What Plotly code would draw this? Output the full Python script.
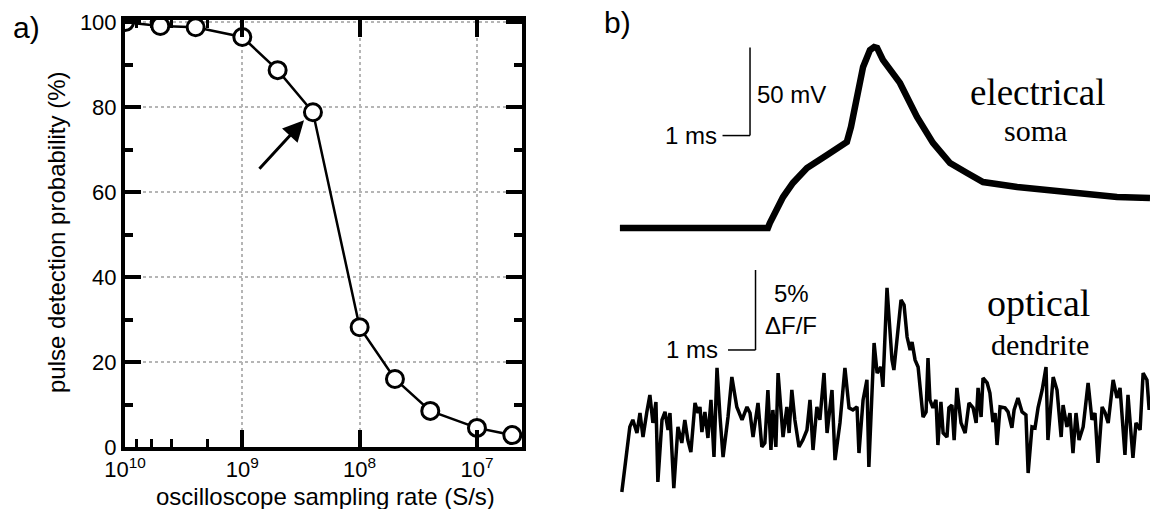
import plotly.graph_objects as go

# a) detection probability vs oscilloscope sampling rate
rate = [1e10, 5e9, 2.5e9, 1e9, 5e8, 2.5e8, 1e8, 5e7, 2.5e7, 1e7, 5e6]
prob = [100, 99.1, 98.8, 96.5, 88.7, 78.8, 28.2, 16.0, 8.5, 4.5, 2.8]
rate_ticks = [1e10, 1e9, 1e8, 1e7]
rate_labels = ["10<sup>10</sup>", "10<sup>9</sup>", "10<sup>8</sup>", "10<sup>7</sup>"]

# b) electrical trace (soma), time in ms, membrane potential in mV
e_t = [0, 5.38, 5.45, 5.71, 5.93, 6.29, 6.80, 7.53, 8.25, 8.40, 8.62, 8.84, 9.09, 9.24,
       9.35, 9.56, 10.18, 10.80, 11.38, 12.00, 12.62, 13.20, 14.44, 15.64, 16.84, 18.07, 19.27]
e_mv = [-65, -65, -62.2, -53.1, -47.4, -39.4, -30.9, -23.5, -16.1, -7.6, 9.4, 26.5, 36.1, 37.8,
        37.3, 30.5, 17.4, -1.9, -16.7, -28.1, -33.8, -38.9, -41.7, -43.4, -45.1, -47.4, -48.0]

# b) optical trace (dendrite), time in ms, dF/F in %
o_t = [0.07, 0.25, 0.36, 0.47, 0.62, 0.73, 0.84, 0.98, 1.09, 1.20,
       1.31, 1.38, 1.53, 1.64, 1.75, 1.82, 1.96, 2.11, 2.25, 2.36,
       2.47, 2.58, 2.73, 2.84, 2.91, 2.98, 3.09, 3.20, 3.31, 3.42,
       3.53, 3.64, 3.75, 3.93, 4.07, 4.25, 4.44, 4.62, 4.73, 4.84,
       5.02, 5.16, 5.27, 5.38, 5.49, 5.56, 5.67, 5.75, 5.93, 6.07,
       6.15, 6.25, 6.36, 6.51, 6.65, 6.80, 6.91, 7.02, 7.16, 7.27,
       7.42, 7.53, 7.71, 7.82, 8.00, 8.18, 8.33, 8.47, 8.62, 8.69,
       8.84, 8.98, 9.05, 9.24, 9.35, 9.49, 9.56, 9.71, 9.89, 9.96,
       10.07, 10.22, 10.33, 10.44, 10.55, 10.62, 10.73, 10.84, 11.02, 11.13,
       11.20, 11.27, 11.38, 11.49, 11.56, 11.67, 11.75, 11.89, 11.96, 12.07,
       12.15, 12.25, 12.40, 12.55, 12.69, 12.84, 12.95, 13.02, 13.13, 13.20,
       13.35, 13.45, 13.56, 13.64, 13.71, 13.82, 14.00, 14.11, 14.25, 14.33,
       14.47, 14.62, 14.76, 14.84, 14.98, 15.09, 15.20, 15.35, 15.49, 15.56,
       15.75, 15.89, 16.04, 16.11, 16.25, 16.36, 16.47, 16.58, 16.69, 16.84,
       17.02, 17.16, 17.27, 17.38, 17.53, 17.64, 17.75, 17.93, 18.07, 18.18,
       18.36, 18.47, 18.65, 18.76, 18.91, 19.02, 19.16, 19.24]
o_dff = [-3.88, -1.06, 0.19, 0.63, -0.19, 1.06, -0.44, 1.13, 2.19, 0.44,
         1.75, -3.25, 0.63, 1.13, 0.00, 1.06, -3.63, 0.19, -0.81, 0.63,
         -0.63, -1.38, 1.69, 1.06, 1.44, -0.13, 1.13, -0.50, 1.88, -1.69,
         3.88, 0.81, -1.69, 0.81, 3.31, 1.44, 0.63, 1.44, 1.06, -0.44,
         1.69, -1.06, -0.81, 2.50, -1.25, 1.25, -1.06, 3.56, -0.44, 1.44,
         -0.19, 2.50, 0.63, -1.06, -0.63, 0.00, 1.88, -1.25, 1.44, 0.63,
         3.56, -0.19, 2.50, -1.88, 0.44, 3.88, 1.38, 1.25, 1.44, -1.44,
         1.88, 3.13, -2.31, 5.44, 3.56, 3.94, 2.69, 8.88, 4.38, 3.75,
         5.81, 8.13, 7.81, 5.81, 5.00, 5.50, 4.38, 3.94, 0.81, 1.13,
         4.50, 1.88, 1.38, 1.88, -0.94, 1.75, -0.19, -0.44, 1.38, 1.56,
         -0.63, 2.63, 0.44, -0.19, 1.69, 1.38, 0.44, 2.63, 0.81, 3.25,
         2.94, 2.31, 0.50, 1.06, -0.94, 1.44, 1.38, 1.13, 0.13, 1.25,
         2.00, 1.13, 0.94, -2.69, 0.19, 0.13, 1.38, 2.50, 3.94, -0.63,
         3.31, 2.50, -0.44, 1.56, 0.19, 1.06, -1.44, 1.06, -0.63, 0.19,
         2.94, 0.63, 1.06, -2.06, 1.44, 1.06, 0.44, 3.13, 2.00, 2.63,
         -1.56, 2.19, -1.75, 0.44, 0.00, 3.56, 3.13, 1.25]

SANS = "Arial, Liberation Sans, sans-serif"
SERIF = "Liberation Serif, DejaVu Serif, serif"

fig = go.Figure()
fig.add_trace(go.Scatter(x=rate, y=prob, mode="lines+markers",
                         line=dict(color="black", width=2.5),
                         marker=dict(symbol="circle", size=17, color="white",
                                     line=dict(color="black", width=3)),
                         xaxis="x", yaxis="y"))
fig.add_trace(go.Scatter(x=e_t, y=e_mv, mode="lines",
                         line=dict(color="black", width=6.5),
                         xaxis="x2", yaxis="y2"))
fig.add_trace(go.Scatter(x=o_t, y=o_dff, mode="lines",
                         line=dict(color="black", width=3.5),
                         xaxis="x2", yaxis="y3"))

axis_common = dict(showline=True, linecolor="black", linewidth=4, mirror="ticks",
                   ticks="inside", tickcolor="black", tickwidth=3.5,
                   showgrid=True, gridcolor="#b5b5b5", griddash="dot", gridwidth=1.5,
                   zeroline=False, automargin=False,
                   tickfont=dict(family=SANS, size=22, color="black"))

fig.update_layout(
    width=1150, height=509,
    margin=dict(l=0, r=0, t=0, b=0),
    paper_bgcolor="white", plot_bgcolor="white",
    showlegend=False,
    xaxis=dict(type="log", range=[10, 6.616], domain=[125 / 1150, 522 / 1150],
               tickvals=rate_ticks, ticktext=rate_labels, ticklen=17,
               minor=dict(ticks="inside", ticklen=8, tickwidth=3, tickcolor="black",
                          showgrid=False),
               anchor="y", **axis_common),
    yaxis=dict(range=[0, 100.5], domain=[1 - 447 / 509, 1 - 20 / 509],
               dtick=20, ticklen=16,
               minor=dict(dtick=10, ticks="inside", ticklen=8, tickwidth=3.5,
                          tickcolor="black", showgrid=False),
               anchor="x", **axis_common),
    xaxis2=dict(domain=[610 / 1150, 1], range=[-0.36, 19.27], visible=False,
                anchor="y2", automargin=False),
    yaxis2=dict(domain=[1 - 250 / 509, 1], range=[-77.5, 64.5], visible=False,
                anchor="x2", automargin=False),
    yaxis3=dict(domain=[0, 1 - 250 / 509], range=[-4.94, 11.25], visible=False,
                anchor="x2", automargin=False),
)

# scale bars
bar = dict(type="line", line=dict(color="black", width=1.5))
fig.add_shape(xref="x2", yref="y2", x0=4.73, x1=4.73, y0=-12.5, y1=37.5, **bar)
fig.add_shape(xref="x2", yref="y2", x0=3.73, x1=4.73, y0=-12.5, y1=-12.5, **bar)
fig.add_shape(xref="x2", yref="y3", x0=4.93, x1=4.93, y0=5, y1=10, **bar)
fig.add_shape(xref="x2", yref="y3", x0=3.93, x1=4.93, y0=5, y1=5, **bar)

def label(text, x, y, size, family=SANS, xanchor="center", yanchor="middle",
          xref="paper", yref="paper", angle=0, xshift=0):
    fig.add_annotation(text=text, x=x, y=y, xref=xref, yref=yref, showarrow=False,
                       xanchor=xanchor, yanchor=yanchor, textangle=angle, xshift=xshift,
                       font=dict(family=family, size=size, color="black"))

label("a)", 27 / 1150, 1 - 27 / 509, 30)
label("b)", 617 / 1150, 1 - 22 / 509, 30)
label("pulse detection probability (%)", 56 / 1150, 1 - 232 / 509, 24, angle=-90)
label("oscilloscope sampling rate (S/s)", 325 / 1150, 1 - 496 / 509, 24)

label("50 mV", 4.73, 11, 24, xanchor="left", xref="x2", yref="y2", xshift=5)
label("1 ms", 3.73, -12.5, 24, xanchor="right", xref="x2", yref="y2", xshift=-4)
label("5%", 6.22, 8.5, 24, xref="x2", yref="y3")
label("ΔF/F", 6.22, 6.5, 24, xref="x2", yref="y3")
label("1 ms", 3.93, 5, 24, xanchor="right", xref="x2", yref="y3", xshift=-8)

label("electrical", 1038 / 1150, 1 - 92 / 509, 37, family=SERIF)
label("soma", 1035 / 1150, 1 - 130 / 509, 30, family=SERIF)
label("optical", 1038 / 1150, 1 - 303 / 509, 38, family=SERIF)
label("dendrite", 1040 / 1150, 1 - 344 / 509, 30, family=SERIF)

# arrow pointing at the 250 MS/s point
fig.add_annotation(x=8.474, y=76.9, xref="x", yref="y", ax=-46, ay=50, text="",
                   showarrow=True, arrowhead=2, arrowsize=1.4, arrowwidth=3,
                   arrowcolor="black", standoff=0)

# the page body has a default margin; drop it so the figure fills the window
fig.write_html("out.html", config={"displayModeBar": False},
               post_script="document.body.style.margin = '0px';")
